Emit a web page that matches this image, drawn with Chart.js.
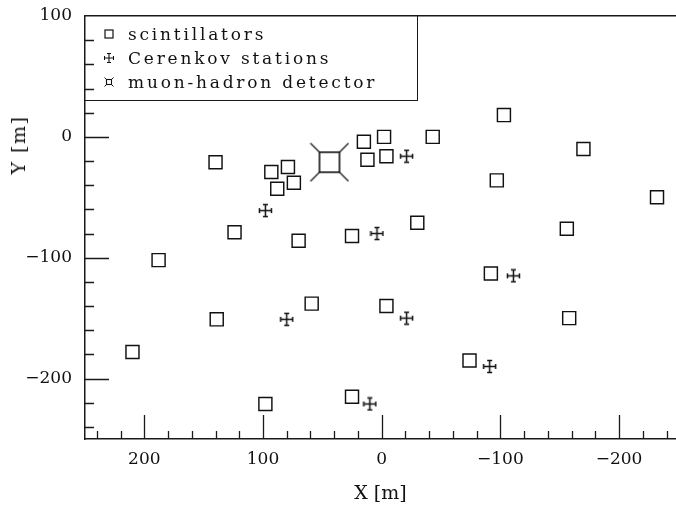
<!DOCTYPE html>
<html>
<head>
<meta charset="utf-8">
<script src="https://cdn.jsdelivr.net/npm/chart.js@4/dist/chart.umd.min.js"></script>
<style>
  body { margin: 0; background: #fff; overflow: hidden; }
  #wrap { position: relative; width: 676px; height: 506px; }
  #legendBox {
    position: absolute; left: 85px; top: 16px; width: 333px; height: 85px;
    box-sizing: border-box; border-right: 1.5px solid #1a1a1a; border-bottom: 1.5px solid #1a1a1a;
    font: 17px "DejaVu Serif"; letter-spacing: 2.8px; color: #111;
  }
  .row { position: absolute; left: 0; height: 24px; line-height: 24px; white-space: nowrap; }
  .row svg { position: absolute; left: 19px; top: 7px; }
  .row span { position: absolute; left: 43px; top: 0; }
  #ytitle {
    position: absolute; left: 18px; top: 145px; transform: translate(-50%, -50%) rotate(-90deg);
    font: 19px "DejaVu Serif"; letter-spacing: 1.5px; color: #111; white-space: nowrap;
  }
</style>
</head>
<body>
<div id="wrap">
  <canvas id="plot" width="676" height="506"></canvas>
  <div id="legendBox">
    <div class="row" style="top:6px">
      <svg width="10" height="10"><rect x="1" y="1" width="8" height="8" fill="none" stroke="#111" stroke-width="1.2"/></svg>
      <span>scintillators</span>
    </div>
    <div class="row" style="top:30px">
      <svg width="10" height="10"><path d="M0.5 5H9.5M5 0.5V9.5M0.5 3V7M9.5 3V7M3 0.5H7M3 9.5H7" fill="none" stroke="#111" stroke-width="1.1"/></svg>
      <span>Cerenkov stations</span>
    </div>
    <div class="row" style="top:54px">
      <svg width="10" height="10"><rect x="2.5" y="2.5" width="5" height="5" fill="none" stroke="#111" stroke-width="1.1"/><path d="M2.5 2.5L0.5 0.5M7.5 2.5L9.5 0.5M2.5 7.5L0.5 9.5M7.5 7.5L9.5 9.5" stroke="#111" stroke-width="1"/></svg>
      <span>muon-hadron detector</span>
    </div>
  </div>
  <div id="ytitle">Y [m]</div>
</div>
<script>
// detector positions, in metres
const scintX = [140, 93, 79, 88, 74, 124, 70, 25, 15, -2, 12, -4, 188, 139, 59, 210, 98, 25,
                -103, -43, -170, -97, -232, -30, -156, -92, -4, -158, -74];
const scintY = [-21, -29, -25, -43, -38, -79, -86, -82, -4, 0, -19, -16, -102, -151, -138, -178, -221, -215,
                18, 0, -10, -36, -50, -71, -76, -113, -140, -150, -185];
const cerenkovX = [98, 4, 80, 10, -21, -111, -21, -91];
const cerenkovY = [-61, -80, -151, -221, -16, -115, -150, -190];
const detectorX = [44];
const detectorY = [-21];

const xTicks = [200, 100, 0, -100, -200];
const yTicks = [100, 0, -100, -200];
const minorStep = 20;

const ink = '#111';
const serif = "'DejaVu Serif', serif";

function pts(xs, ys) { return xs.map((x, i) => ({x: x, y: ys[i]})); }

// cross with end caps
function crossImg() {
  const c = document.createElement('canvas');
  c.width = 15; c.height = 15;
  const g = c.getContext('2d');
  g.strokeStyle = ink; g.lineWidth = 1.5;
  g.beginPath();
  g.moveTo(1, 7.5); g.lineTo(14, 7.5);
  g.moveTo(7.5, 1); g.lineTo(7.5, 14);
  g.moveTo(1.5, 5); g.lineTo(1.5, 10);
  g.moveTo(13.5, 5); g.lineTo(13.5, 10);
  g.moveTo(5, 1.5); g.lineTo(10, 1.5);
  g.moveTo(5, 13.5); g.lineTo(10, 13.5);
  g.stroke();
  return c;
}

// big square with diagonal arms
function detectorImg() {
  const c = document.createElement('canvas');
  c.width = 40; c.height = 40;
  const g = c.getContext('2d');
  g.strokeStyle = ink; g.lineWidth = 1.6;
  g.strokeRect(10, 10, 20, 20);
  g.lineWidth = 1.2;
  g.beginPath();
  g.moveTo(10, 10); g.lineTo(1, 1);
  g.moveTo(30, 10); g.lineTo(39, 1);
  g.moveTo(10, 30); g.lineTo(1, 39);
  g.moveTo(30, 30); g.lineTo(39, 39);
  g.stroke();
  return c;
}

// ticks pointing into the plot, long ones at the labelled values
const innerTicks = {
  id: 'innerTicks',
  afterDraw(chart) {
    const {ctx, chartArea: a, scales: {x, y}} = chart;
    ctx.save();
    ctx.strokeStyle = '#1a1a1a';
    ctx.lineWidth = 1.3;
    ctx.beginPath();
    for (let v = -240; v <= 240; v += minorStep) {
      const px = Math.round(x.getPixelForValue(v)) + 0.5;
      const len = xTicks.includes(v) ? 24 : 8;
      ctx.moveTo(px, a.bottom);
      ctx.lineTo(px, a.bottom - len);
    }
    for (let v = -240; v < 100; v += minorStep) {
      const py = Math.round(y.getPixelForValue(v)) + 0.5;
      const len = yTicks.includes(v) ? 24 : 9;
      ctx.moveTo(a.left, py);
      ctx.lineTo(a.left + len, py);
    }
    ctx.stroke();
    ctx.restore();
  }
};

const tickFont = {family: serif, size: 17};
const fmt = v => (v < 0 ? '\u2212' + Math.abs(v) : '' + v);
const noPad = s => { s.paddingLeft = 0; s.paddingRight = 0; s.paddingTop = 0; s.paddingBottom = 0; };

new Chart(document.getElementById('plot'), {
  type: 'scatter',
  data: {
    datasets: [
      {
        label: 'scintillators',
        data: pts(scintX, scintY),
        pointStyle: 'rect',
        pointRadius: 9.2,
        pointBorderWidth: 1.45,
        borderColor: ink,
        backgroundColor: 'rgba(0,0,0,0)'
      },
      {
        label: 'Cerenkov stations',
        data: pts(cerenkovX, cerenkovY),
        pointStyle: crossImg(),
        pointRadius: 8
      },
      {
        label: 'muon-hadron detector',
        data: pts(detectorX, detectorY),
        pointStyle: detectorImg(),
        pointRadius: 20
      }
    ]
  },
  options: {
    responsive: false,
    animation: false,
    devicePixelRatio: 1,
    events: [],
    layout: {padding: 0, autoPadding: false},
    plugins: {legend: {display: false}, tooltip: {enabled: false}},
    scales: {
      x: {
        type: 'linear',
        position: 'bottom',
        reverse: true,
        min: -248,
        max: 250,
        afterBuildTicks: s => { s.ticks = xTicks.map(v => ({value: v})); },
        afterFit: s => { s.height = 67; noPad(s); },
        ticks: {font: tickFont, color: ink, padding: 10, maxRotation: 0, autoSkip: false, callback: fmt},
        grid: {display: false, drawTicks: false},
        border: {display: true, color: '#1a1a1a', width: 1.5},
        title: {display: true, text: 'X [m]', color: ink, font: {family: serif, size: 19}, padding: {top: 0, bottom: 1}}
      },
      top: {
        type: 'linear',
        axis: 'x',
        position: 'top',
        afterFit: s => { s.height = 16; noPad(s); },
        ticks: {display: false},
        grid: {display: false, drawTicks: false},
        border: {display: true, color: '#1a1a1a', width: 1.5}
      },
      y: {
        type: 'linear',
        position: 'left',
        min: -250,
        max: 100,
        afterBuildTicks: s => { s.ticks = yTicks.map(v => ({value: v})); },
        afterFit: s => { s.width = 85; noPad(s); },
        ticks: {font: tickFont, color: ink, padding: 13, callback: fmt},
        grid: {display: false, drawTicks: false},
        border: {display: true, color: '#1a1a1a', width: 1.5}
      }
    }
  },
  plugins: [innerTicks]
});
</script>
</body>
</html>
